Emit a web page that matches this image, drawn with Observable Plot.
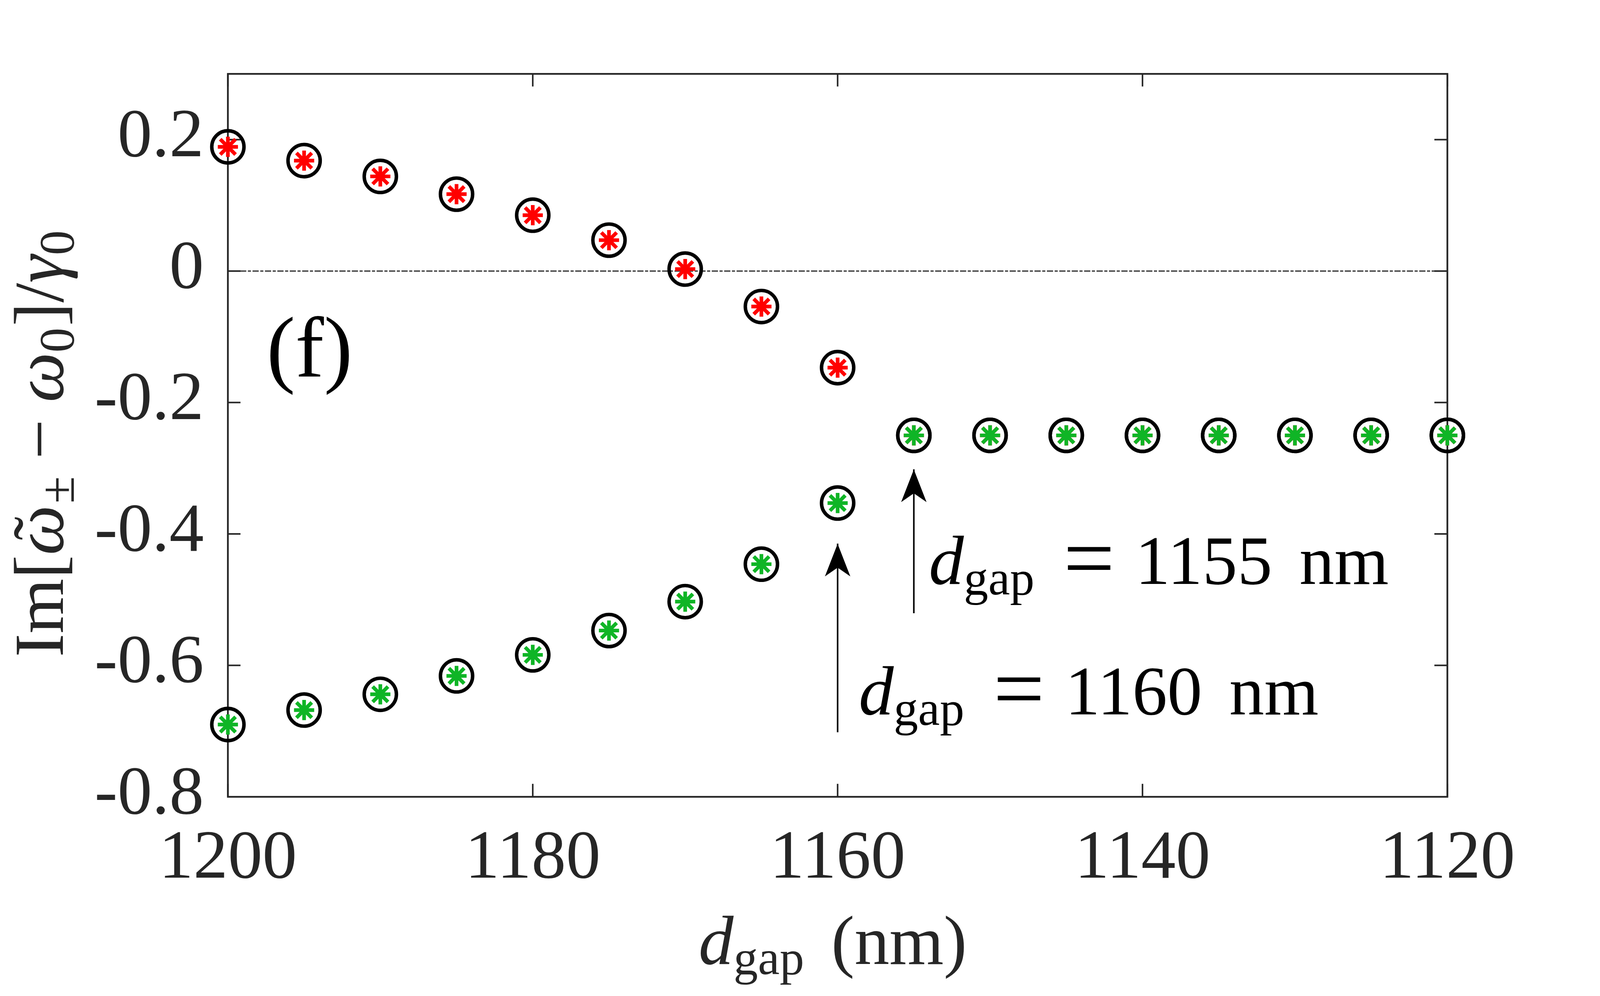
<!DOCTYPE html>
<html>
<head>
<meta charset="utf-8">
<script src="https://cdn.jsdelivr.net/npm/d3@7"></script>
<script src="https://cdn.jsdelivr.net/npm/@observablehq/plot@0.6"></script>
<style>
  html, body { margin: 0; padding: 0; background: #ffffff; overflow: hidden; }
  #chart svg { display: block; }
</style>
</head>
<body>
<div id="chart"></div>
<script>
// ---------------- data ----------------
const dGap = [1200, 1195, 1190, 1185, 1180, 1175, 1170, 1165, 1160, 1155, 1150, 1145, 1140, 1135, 1130, 1125, 1120];
const imPlus = [0.189, 0.168, 0.144, 0.117, 0.085, 0.047, 0.003, -0.054, -0.147, -0.25, -0.25, -0.25, -0.25, -0.25, -0.25, -0.25, -0.25];
const imMinus = [-0.690, -0.668, -0.644, -0.616, -0.584, -0.547, -0.503, -0.446, -0.353, -0.25, -0.25, -0.25, -0.25, -0.25, -0.25, -0.25, -0.25];

const xTicks = [1200, 1180, 1160, 1140, 1120];
const xTickLabels = ["1200", "1180", "1160", "1140", "1120"];
const yTicks = [-0.8, -0.6, -0.4, -0.2, 0, 0.2];
const yTickLabels = ["-0.8", "-0.6", "-0.4", "-0.2", "0", "0.2"];

const arrowX = [1160, 1155];
const arrowTip = [-0.415, -0.302];
const arrowBase = [-0.702, -0.521];
const arrowText = ["1160", "1155"];

// ---------------- layout ----------------
const W = 4125, H = 2550;
const mL = 587, mR = 394, mT = 190, mB = 496;
const pw = W - mL - mR, ph = H - mT - mB;
const FF = "'Liberation Serif', 'DejaVu Serif', serif";
const TXT = "#262626";

const plusData = dGap.map((d, i) => ({d, v: imPlus[i]}));
const minusData = dGap.map((d, i) => ({d, v: imMinus[i]}));
const arrows = arrowX.map((x, i) => ({x, tip: arrowTip[i], base: arrowBase[i]}));

// MATLAB-like '*' marker: plus + diagonal cross
const asterisk = {
  draw(ctx, size) {
    const r = Math.sqrt(size / Math.PI), k = r * 0.76;
    ctx.moveTo(-r, 0); ctx.lineTo(r, 0);
    ctx.moveTo(0, -r); ctx.lineTo(0, r);
    ctx.moveTo(-k, -k); ctx.lineTo(k, k);
    ctx.moveTo(-k, k); ctx.lineTo(k, -k);
  }
};
// filled stealth arrow head with its tip at the anchor point, pointing up
const stealth = {
  draw(ctx, size) {
    const r = Math.sqrt(size / Math.PI);
    ctx.moveTo(0, 0);
    ctx.lineTo(-0.39 * r, r);
    ctx.lineTo(0, 0.73 * r);
    ctx.lineTo(0.39 * r, r);
    ctx.closePath();
  }
};

const chart = Plot.plot({
  width: W,
  height: H,
  marginLeft: mL,
  marginRight: mR,
  marginTop: mT,
  marginBottom: mB,
  style: {background: "#ffffff", fontFamily: FF, overflow: "visible"},
  x: {domain: [1200, 1120], label: null},
  y: {domain: [-0.8, 0.3], label: null},
  marks: [
    // zero reference line (dash-dot)
    Plot.ruleY([0], {stroke: "#404040", strokeWidth: 3.5, strokeDasharray: "16 4 8 4"}),
    // inner ticks on all four sides
    Plot.tickX(xTicks, {x: d => d, insetTop: ph - 33, stroke: TXT, strokeWidth: 4}),
    Plot.tickX(xTicks, {x: d => d, insetBottom: ph - 33, stroke: TXT, strokeWidth: 4}),
    Plot.tickY(yTicks, {y: d => d, insetRight: pw - 33, stroke: TXT, strokeWidth: 4}),
    Plot.tickY(yTicks, {y: d => d, insetLeft: pw - 33, stroke: TXT, strokeWidth: 4}),
    // tick labels
    Plot.axisX(xTicks, {
      tickSize: 0, tickPadding: 82, fontSize: 178, fontFamily: FF, fill: TXT, label: null,
      tickFormat: d => xTickLabels[xTicks.indexOf(d)]
    }),
    Plot.axisY(yTicks, {
      tickSize: 0, tickPadding: 62, fontSize: 178, fontFamily: FF, fill: TXT, label: null, dy: -14,
      tickFormat: d => yTickLabels[yTicks.indexOf(d)]
    }),
    Plot.frame({stroke: TXT, strokeWidth: 4.5}),
    // arrows
    Plot.ruleX(arrows, {x: "x", y1: "base", y2: "tip", stroke: "#000000", strokeWidth: 4}),
    Plot.dot(arrows, {x: "x", y: "tip", symbol: stealth, r: 84, fill: "#000000", stroke: "none"}),
    // black open circles
    Plot.dot(plusData, {x: "d", y: "v", r: 41.5, stroke: "#000000", strokeWidth: 9, fill: "none"}),
    Plot.dot(minusData, {x: "d", y: "v", r: 41.5, stroke: "#000000", strokeWidth: 9, fill: "none"}),
    // asterisks
    Plot.dot(plusData, {x: "d", y: "v", r: 26, symbol: asterisk, stroke: "#ff0000", strokeWidth: 9.5, fill: "none"}),
    Plot.dot(minusData, {x: "d", y: "v", r: 26, symbol: asterisk, stroke: "#0fb526", strokeWidth: 9.5, fill: "none"})
  ]
});

document.getElementById("chart").appendChild(chart);

// ---------------- rich text (sub/superscripts) ----------------
const sx = chart.scale("x"), sy = chart.scale("y");
const svg = d3.select(chart);

// y-axis label: Im[ω̃± − ω0]/γ0
{
  const fs = 182, ss = 128, sh = 28;
  const t = svg.append("text")
    .attr("transform", `translate(162,${mT + ph / 2 + 22}) rotate(-90)`)
    .attr("text-anchor", "middle")
    .attr("font-family", FF).attr("font-size", fs).attr("fill", TXT);
  t.append("tspan").text("Im[");
  t.append("tspan").attr("font-style", "italic").text("ω");
  t.append("tspan").attr("dx", -90).attr("dy", -4).text("\u02DC");
  t.append("tspan").attr("font-size", ss).attr("dx", 34).attr("dy", sh + 4).text("±");
  t.append("tspan").attr("dy", -sh).attr("dx", 44).text("−");
  t.append("tspan").attr("dx", 44).attr("font-style", "italic").text("ω");
  t.append("tspan").attr("font-size", ss).attr("dy", sh).text("0");
  t.append("tspan").attr("dy", -sh).attr("dx", 4).text("]/");
  t.append("tspan").attr("font-style", "italic").text("γ");
  t.append("tspan").attr("font-size", ss).attr("dy", sh).text("0");
}

// x-axis label: d_gap (nm)
{
  const t = svg.append("text")
    .attr("x", mL + pw / 2 - 12).attr("y", 2485)
    .attr("text-anchor", "middle")
    .attr("font-family", FF).attr("font-size", 180).attr("fill", TXT);
  t.append("tspan").attr("font-style", "italic").text("d");
  t.append("tspan").attr("font-size", 126).attr("dy", 27).text("gap");
  t.append("tspan").attr("dy", -27).attr("dx", 70).text("(nm)");
}

// panel tag (f)
svg.append("text")
  .attr("x", sx.apply(1197.45)).attr("y", sy.apply(-0.161))
  .attr("text-anchor", "start")
  .attr("font-family", FF).attr("font-size", 222).attr("fill", "#000000")
  .text("(f)");

// annotations: d_gap = 1160 nm / 1155 nm
const notePos = [
  {x: 1158.6, y: -0.675},
  {x: 1154.0, y: -0.4763}
];
notePos.forEach((p, i) => {
  const x0 = sx.apply(p.x), y0 = sy.apply(p.y);
  const t = svg.append("text")
    .attr("x", x0).attr("y", y0)
    .attr("text-anchor", "start")
    .attr("font-family", FF).attr("font-size", 180).attr("fill", "#000000");
  t.append("tspan").attr("font-style", "italic").text("d");
  t.append("tspan").attr("font-size", 126).attr("dy", 27).text("gap");
  t.append("tspan").attr("x", x0 + 413).attr("y", y0 + 12).attr("font-size", 235).attr("text-anchor", "middle").text("=");
  t.append("tspan").attr("x", x0 + 532).attr("y", y0).attr("text-anchor", "start").text(arrowText[i]);
  t.append("tspan").attr("dx", 70).text("nm");
});
</script>
</body>
</html>
